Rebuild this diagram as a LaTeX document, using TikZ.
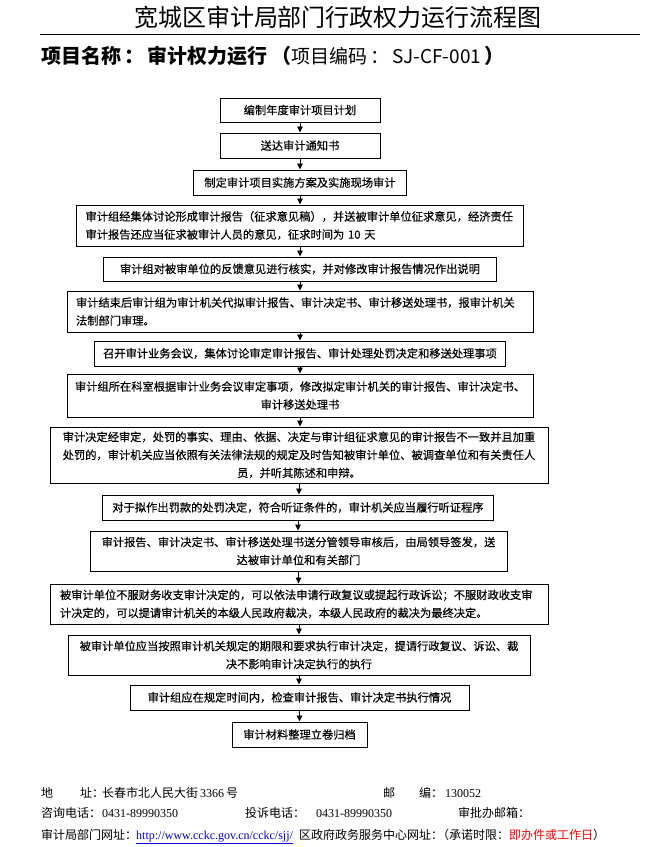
\documentclass[tikz,border=0pt]{standalone}
\usepackage{fontspec}
\setmainfont{Liberation Serif}
\newfontfamily\cjk{Noto Sans CJK SC}
\newfontfamily\cjkbox{Noto Sans CJK SC}[FakeBold=0.35]
\newfontfamily\tms{Liberation Serif}
\usetikzlibrary{arrows.meta}
\begin{document}
\begin{tikzpicture}[x=1pt,y=-1pt,
  box/.style={draw=black, line width=1pt, inner sep=0pt, fill=white,
    font=\cjkbox\fontsize{11.25}{18}\selectfont, align=center},
  lbox/.style={box, align=left},
  arr/.style={-{Triangle[length=6pt,width=5.5pt]}, line width=0.9pt},
  foot/.style={anchor=base west, inner sep=0pt, font=\cjk\fontsize{12}{14}\selectfont},
  footnum/.style={anchor=base west, inner sep=0pt, font=\tms\fontsize{12}{14}\selectfont}
]
\useasboundingbox (0,0) rectangle (662,847);
\fill[white] (0,0) rectangle (662,847);

% title
\node[inner sep=0pt, font=\cjk\fontsize{24}{28}\selectfont] (title) at (338,17) {宽城区审计局部门行政权力运行流程图};
\coordinate (tl) at (40,34);
\coordinate (tr) at (640,34);
\draw[line width=1pt] (tl) -- (tr);
\node[anchor=west, inner sep=0pt, font=\cjk\fontsize{20}{24}\selectfont] (sub) at (41,56)
  {{\bfseries 项目名称\,：\,审计权力运行\,（}{\fontsize{19}{22}\selectfont 项目编码\,：\,SJ-CF-001}{\bfseries \,）}};

% boxes
\node[box, minimum width=160pt, minimum height=24pt] (b1) at (300,110) {编制年度审计项目计划};
\node[box, minimum width=160pt, minimum height=25pt] (b2) at (300,145.5) {送达审计通知书};
\node[box, minimum width=213pt, minimum height=25pt] (b3) at (300,182.5) {制定审计项目实施方案及实施现场审计};
\node[lbox, minimum width=447pt, minimum height=41pt, text width=429pt] (b4) at (300,225.5)
  {审计组经集体讨论形成审计报告（征求意见稿），并送被审计单位征求意见，经济责任\\审计报告还应当征求被审计人员的意见，征求时间为 10 天};
\node[box, minimum width=393pt, minimum height=24pt] (b5) at (300,269) {审计组对被审单位的反馈意见进行核实，并对修改审计报告情况作出说明};
\node[lbox, minimum width=466pt, minimum height=41pt, text width=448pt] (b6) at (300,311.5)
  {审计结束后审计组为审计机关代拟审计报告、审计决定书、审计移送处理书，报审计机关\\法制部门审理。};
\node[box, minimum width=411pt, minimum height=25pt] (b7) at (300,353.5) {召开审计业务会议，集体讨论审定审计报告、审计处理处罚决定和移送处理事项};
\node[box, minimum width=466pt, minimum height=43pt, text width=460pt] (b8) at (300,395.5)
  {审计组所在科室根据审计业务会议审定事项，修改拟定审计机关的审计报告、审计决定书、\\审计移送处理书};
\node[box, minimum width=498pt, minimum height=56pt, text width=482pt] (b9) at (299,455)
  {审计决定经审定，处罚的事实、理由、依据、决定与审计组征求意见的审计报告不一致并且加重\\处罚的，审计机关应当依照有关法律法规的规定及时告知被审计单位、被调查单位和有关责任人\\员，并听其陈述和申辩。};
\node[box, minimum width=391pt, minimum height=25pt] (b10) at (298,507.5) {对于拟作出罚款的处罚决定，符合听证条件的，审计机关应当履行听证程序};
\node[box, minimum width=417pt, minimum height=40pt, text width=400pt] (b11) at (298.5,551)
  {审计报告、审计决定书、审计移送处理书送分管领导审核后，由局领导签发，送\\达被审计单位和有关部门};
\node[lbox, minimum width=498pt, minimum height=40pt, text width=478pt] (b12) at (299,604)
  {被审计单位不服财务收支审计决定的，可以依法申请行政复议或提起行政诉讼；不服财政收支审\\计决定的，可以提请审计机关的本级人民政府裁决，本级人民政府的裁决为最终决定。};
\node[box, minimum width=462pt, minimum height=40pt, text width=446pt] (b13) at (299,655)
  {被审计单位应当按照审计机关规定的期限和要求执行审计决定，提请行政复议、诉讼、裁\\决不影响审计决定执行的执行};
\node[box, minimum width=339pt, minimum height=25pt] (b14) at (299.5,697.5) {审计组应在规定时间内，检查审计报告、审计决定书执行情况};
\node[box, minimum width=135pt, minimum height=25pt] (b15) at (299.5,734.5) {审计材料整理立卷归档};

% arrows
\foreach \a/\b in {b1/b2,b2/b3,b3/b4,b4/b5,b5/b6,b6/b7,b7/b8,b8/b9,b9/b10,b10/b11,b11/b12,b12/b13,b13/b14,b14/b15}
  \draw[arr] (\a.south) -- (\a.south |- \b.north);

% footer
\node[foot] (f1) at (41,797) {地};
\node[foot] (f2) at (80,797) {址：};
\node[foot] (f3) at (102,797) {长春市北人民大街\,{\tms 3366}\,号};
\node[foot] (f4) at (383,797) {邮};
\node[foot] (f5) at (419,797) {编：};
\node[footnum] (f6) at (445,797) {130052};

\node[foot] (g1) at (41,817) {咨询电话：};
\node[footnum] (g2) at (102,817) {0431-89990350};
\node[foot] (g3) at (245,817) {投诉电话：};
\node[footnum] (g4) at (316,817) {0431-89990350};
\node[foot] (g5) at (458,817) {审批办邮箱：};

\node[foot] (h1) at (41,839) {审计局部门网址：};
\node[footnum, text=blue!85!black] (h2) at (136,839) {\underline{http://www.cckc.gov.cn/cckc/sjj/}};
\node[foot] (h3) at (299,839) {区政府政务服务中心网址：};
\node[foot] (h4) at (437,839) {（承诺时限：{\color{red}即办件或工作日}）};
\end{tikzpicture}
\end{document}
